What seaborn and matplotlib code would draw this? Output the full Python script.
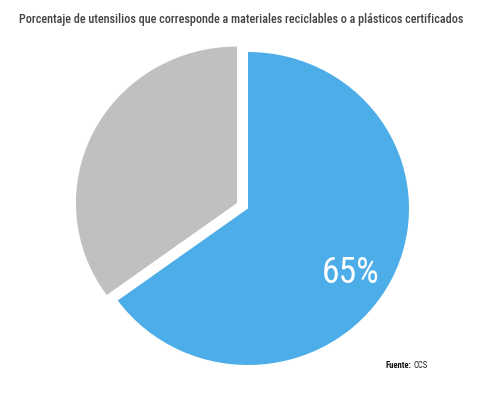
import matplotlib
matplotlib.use("Agg")
import matplotlib.pyplot as plt
import seaborn as sns
from matplotlib import font_manager as fm

categories = ["Reciclables o plásticos certificados", "Otros"]
values = [65, 35]
colors = ["#4DADE8", "#C0C0C0"]
title = "Porcentaje de utensilios que corresponde a materiales reciclables o a plásticos certificados"
source_label = "Fuente:"
source_value = "CCS"

sns.set_style("white")
names = {f.name for f in fm.fontManager.ttflist}
cond = None
for cand in ["Roboto Condensed", "Liberation Sans Narrow", "Open Sans Condensed",
             "Noto Sans Condensed", "DejaVu Sans Condensed", "Roboto", "Liberation Sans"]:
    if cand in names:
        cond = cand
        break
if cond is None:
    cond = "DejaVu Sans"
plt.rcParams["font.family"] = [cond, "DejaVu Sans"]

fig = plt.figure(figsize=(4.83, 3.94), dpi=100)
ax = fig.add_axes([0, 0, 1, 1])

wedges, texts, autotexts = ax.pie(
    values,
    colors=colors,
    startangle=90,
    counterclock=False,
    explode=[0, 0.077],
    autopct=lambda p: f"{p:.0f}%" if p > 50 else "",
    pctdistance=0.745,
    textprops=dict(color="white", fontsize=25),
    wedgeprops=dict(linewidth=0),
)
ax.set_aspect("auto")
ax.set_xlim(-248 / 161, (483 - 248) / 161)
ax.set_ylim(-(394 - 208.5) / 156.5, 208.5 / 156.5)
ax.axis("off")

t = fig.text(0.5, 1 - 19 / 394, title, ha="center", va="center",
             fontsize=11, color="#444444", fontweight="medium")
fs = fig.text(386 / 483, 1 - 368 / 394, source_label, ha="left", va="baseline",
              fontsize=6.2, color="#111111", fontweight="bold")

renderer = fig.canvas.get_renderer()


def fit(txt, width_px):
    w = txt.get_window_extent(renderer).width
    txt.set_fontsize(txt.get_fontsize() * width_px / w)


fit(t, 444)
for a in autotexts:
    if a.get_text():
        a.set_fontsize(25)
        fit(a, 58)
        a.set_position((0.64, -0.385))
        a.set_va("center_baseline")

ext = fs.get_window_extent(renderer)
fig.text((ext.x1 + 1.5) / 483, 1 - 368 / 394, source_value, ha="left", va="baseline",
         fontsize=6.2, color="#222222")

fig.savefig("out.png", dpi=100)
